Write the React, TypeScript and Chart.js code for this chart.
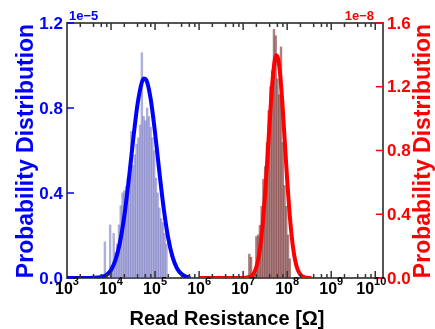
import React, { useEffect, useRef } from 'react';
import { Chart, registerables } from 'chart.js';

Chart.register(...registerables);

// ---- data (x given as log10 of resistance in ohm) ----
const lrsBinExp = [3.86, 3.90, 3.94, 3.98, 4.02, 4.06, 4.10, 4.14, 4.18, 4.22, 4.26, 4.30, 4.34, 4.38, 4.42, 4.46, 4.50, 4.54, 4.58, 4.62, 4.66, 4.70, 4.74, 4.78, 4.82, 4.86, 4.90, 4.94, 4.98, 5.02, 5.06, 5.10, 5.14, 5.18, 5.22, 5.26];
const lrsHist = [0.17, 0, 0, 0.25, 0.05, 0.21, 0.12, 0.16, 0.25, 0.34, 0.40, 0.41, 0.43, 0.47, 0.52, 0.69, 0.53, 0.58, 0.63, 0.66, 0.72, 1.06, 0.76, 0.74, 0.80, 0.76, 0.71, 0.66, 0.60, 0.47, 0.40, 0.33, 0.28, 0.26, 0.21, 0.16]; // x1e-5

const hrsBinExp = [7.10, 7.14, 7.18, 7.22, 7.26, 7.30, 7.34, 7.38, 7.42, 7.46, 7.50, 7.54, 7.58, 7.62, 7.66, 7.70, 7.74, 7.78, 7.82, 7.86, 7.90, 7.94, 7.98, 8.02, 8.06];
const hrsHist = [0, 0.15, 0.13, 0.03, 0.05, 0.26, 0.27, 0.33, 0.45, 0.62, 0.70, 0.85, 1.05, 1.20, 1.30, 1.56, 1.52, 1.25, 1.15, 1.45, 0.85, 0.58, 0.45, 0.27, 0.12]; // x1e-8

const lrsFitExp = [3.0, 3.5, 3.7, 3.8, 3.9, 4.0, 4.1, 4.2, 4.3, 4.4, 4.5, 4.6, 4.7, 4.75, 4.8, 4.9, 5.0, 5.1, 5.2, 5.3, 5.4, 5.5, 5.6, 5.7, 5.8];
const lrsFit = [0, 0, 0.002, 0.006, 0.015, 0.038, 0.084, 0.165, 0.290, 0.457, 0.646, 0.815, 0.921, 0.939, 0.932, 0.843, 0.683, 0.495, 0.321, 0.186, 0.097, 0.045, 0.019, 0.007, 0.002]; // x1e-5

const hrsFitExp = [6.0, 6.8, 7.0, 7.1, 7.2, 7.25, 7.3, 7.35, 7.4, 7.45, 7.5, 7.55, 7.6, 7.65, 7.7, 7.75, 7.8, 7.85, 7.9, 7.95, 8.0, 8.05, 8.1, 8.15, 8.2, 8.25, 8.3, 8.4, 8.55];
const hrsFit = [0, 0, 0, 0.003, 0.016, 0.034, 0.068, 0.127, 0.220, 0.355, 0.533, 0.746, 0.971, 1.178, 1.330, 1.398, 1.368, 1.247, 1.058, 0.836, 0.615, 0.421, 0.269, 0.159, 0.088, 0.045, 0.022, 0.004, 0]; // x1e-8

const xMajorExp = [3, 4, 5, 6, 7, 8, 9, 10];
const xMinorMult = [2, 4, 6, 8];
const leftTicks = [0, 0.4, 0.8, 1.2];
const rightTicks = [0, 0.4, 0.8, 1.2, 1.6];
const leftScaleLabel = '1e\u22125';
const rightScaleLabel = '1e\u22128';
const yTitle = 'Probability Distribution';
const xTitle = 'Read Resistance [\u03A9]';

const LEFT_F = 1e-5;
const RIGHT_F = 1e-8;
const FONT = '"Liberation Sans", Arial, Helvetica, sans-serif';
const BLUE = '#0000ff';
const RED = '#ff0000';

const decor = {
  id: 'decor',
  beforeDatasetsDraw(chart: any) {
    const { ctx, chartArea: a } = chart;
    ctx.save();
    ctx.strokeStyle = '#555555';
    ctx.lineWidth = 2;
    ctx.strokeRect(a.left, a.top, a.right - a.left, a.bottom - a.top);
    ctx.restore();
  },
  afterDatasetsDraw(chart: any) {
    const { ctx, chartArea: a, scales } = chart;
    const xs = scales.x, yl = scales.y, yr = scales.y2;
    const seg = (x1: number, y1: number, x2: number, y2: number) => {
      ctx.beginPath();
      ctx.moveTo(x1, y1);
      ctx.lineTo(x2, y2);
      ctx.stroke();
    };
    ctx.save();
    ctx.lineWidth = 1.5;
    ctx.strokeStyle = '#333333';
    for (const e of xMajorExp) {
      const px = xs.getPixelForValue(Math.pow(10, e));
      if (px > a.left + 1 && px < a.right - 1) {
        seg(px, a.bottom, px, a.bottom - 7);
        seg(px, a.top, px, a.top + 7);
      }
      for (const m of xMinorMult) {
        const v = m * Math.pow(10, e);
        if (v >= xs.max) continue;
        const q = xs.getPixelForValue(v);
        seg(q, a.bottom, q, a.bottom - 4);
        seg(q, a.top, q, a.top + 4);
      }
    }
    ctx.strokeStyle = BLUE;
    for (const t of leftTicks) {
      const py = yl.getPixelForValue(t * LEFT_F);
      seg(a.left, py, a.left + 7, py);
    }
    ctx.strokeStyle = RED;
    for (const t of rightTicks) {
      const py = yr.getPixelForValue(t * RIGHT_F);
      seg(a.right, py, a.right - 7, py);
    }
    ctx.restore();
  },
  afterDraw(chart: any) {
    const { ctx, chartArea: a, scales } = chart;
    const xs = scales.x, yl = scales.y, yr = scales.y2;
    ctx.save();
    // y tick labels
    ctx.font = `bold 17px ${FONT}`;
    ctx.textBaseline = 'middle';
    ctx.fillStyle = BLUE;
    ctx.textAlign = 'right';
    for (const t of leftTicks) {
      ctx.fillText(t.toFixed(1), a.left - 4, yl.getPixelForValue(t * LEFT_F) + 1);
    }
    ctx.fillStyle = RED;
    ctx.textAlign = 'left';
    for (const t of rightTicks) {
      ctx.fillText(t.toFixed(1), a.right + 4, yr.getPixelForValue(t * RIGHT_F) + 1);
    }
    // offsets
    ctx.font = `bold 13px ${FONT}`;
    ctx.textBaseline = 'alphabetic';
    ctx.fillStyle = BLUE;
    ctx.textAlign = 'left';
    ctx.fillText(leftScaleLabel, a.left + 2, a.top - 3);
    ctx.fillStyle = RED;
    ctx.textAlign = 'right';
    ctx.fillText(rightScaleLabel, a.right - 9, a.top - 3);
    // x tick labels with superscripts
    ctx.fillStyle = '#000000';
    ctx.textAlign = 'left';
    for (const e of xMajorExp) {
      const px = xs.getPixelForValue(Math.pow(10, e));
      ctx.font = `bold 16px ${FONT}`;
      const wb = ctx.measureText('10').width;
      ctx.font = `bold 11px ${FONT}`;
      const we = ctx.measureText(String(e)).width;
      const start = px - (wb + we) / 2 - (e === 10 ? 4 : 0);
      ctx.font = `bold 16px ${FONT}`;
      ctx.fillText('10', start, a.bottom + 16);
      ctx.font = `bold 11px ${FONT}`;
      ctx.fillText(String(e), start + wb, a.bottom + 7);
    }
    // x title
    ctx.font = `bold 20px ${FONT}`;
    ctx.textAlign = 'center';
    ctx.fillText(xTitle, (a.left + a.right) / 2 + 2, a.bottom + 47);
    // y titles
    ctx.font = `bold 23px ${FONT}`;
    ctx.fillStyle = BLUE;
    ctx.translate(33, 151);
    ctx.rotate(-Math.PI / 2);
    ctx.fillText(yTitle, 0, 0);
    ctx.setTransform(1, 0, 0, 1, 0, 0);
    ctx.fillStyle = RED;
    ctx.translate(430, 151);
    ctx.rotate(-Math.PI / 2);
    ctx.fillText(yTitle, 0, 0);
    ctx.restore();
  },
};

export default function App() {
  const ref = useRef<HTMLCanvasElement>(null);
  useEffect(() => {
    document.body.style.margin = '0';
    const chart = new Chart(ref.current as HTMLCanvasElement, {
      type: 'bar',
      data: {
        datasets: [
          {
            type: 'line',
            data: lrsFitExp.map((e, i) => ({ x: Math.pow(10, e), y: lrsFit[i] * LEFT_F })),
            borderColor: BLUE,
            borderWidth: 4,
            pointRadius: 0,
            cubicInterpolationMode: 'monotone',
            fill: false,
            yAxisID: 'y',
            order: 0,
          } as any,
          {
            type: 'line',
            data: hrsFitExp.map((e, i) => ({ x: Math.pow(10, e), y: hrsFit[i] * RIGHT_F })),
            borderColor: RED,
            borderWidth: 4,
            pointRadius: 0,
            cubicInterpolationMode: 'monotone',
            fill: false,
            yAxisID: 'y2',
            order: 0,
          } as any,
          {
            type: 'bar',
            data: lrsBinExp.map((e, i) => ({ x: Math.pow(10, e), y: lrsHist[i] * LEFT_F })),
            backgroundColor: 'rgba(95,95,185,0.5)',
            borderWidth: 0,
            barPercentage: 1,
            categoryPercentage: 1,
            grouped: false,
            yAxisID: 'y',
            order: 2,
          } as any,
          {
            type: 'bar',
            data: hrsBinExp.map((e, i) => ({ x: Math.pow(10, e), y: hrsHist[i] * RIGHT_F })),
            backgroundColor: 'rgba(115,45,45,0.6)',
            borderWidth: 0,
            barPercentage: 1,
            categoryPercentage: 1,
            grouped: false,
            yAxisID: 'y2',
            order: 2,
          } as any,
        ],
      },
      options: {
        responsive: false,
        devicePixelRatio: 1,
        animation: false,
        layout: { padding: { left: 67, right: 52, top: 23, bottom: 51 } },
        plugins: { legend: { display: false }, tooltip: { enabled: false } },
        scales: {
          x: { type: 'logarithmic', min: 1000, max: 1.5e10, display: false, offset: false },
          y: { type: 'linear', min: 0, max: 1.2e-5, display: false, position: 'left' },
          y2: { type: 'linear', min: 0, max: 1.6e-8, display: false, position: 'right' },
        },
      } as any,
      plugins: [decor],
    });
    return () => chart.destroy();
  }, []);
  return (
    <div style={{ width: 435, height: 329, overflow: 'hidden', background: '#fff' }}>
      <canvas ref={ref} width={435} height={329} style={{ display: 'block' }} />
    </div>
  );
}
